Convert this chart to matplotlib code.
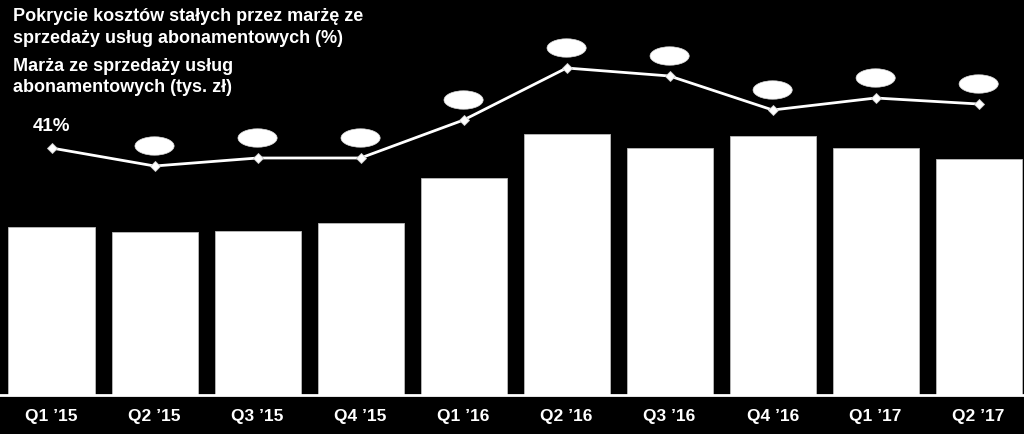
import matplotlib
matplotlib.use("Agg")
import matplotlib.pyplot as plt
from matplotlib.patches import Ellipse

categories = ["Q1 \u201915", "Q2 \u201915", "Q3 \u201915", "Q4 \u201915", "Q1 \u201916",
              "Q2 \u201916", "Q3 \u201916", "Q4 \u201916", "Q1 \u201917", "Q2 \u201917"]
# Marża ze sprzedaży usług abonamentowych (tys. zł) - estimated
margin = [6720, 6520, 6560, 6880, 8680, 10440, 9880, 10360, 9880, 9440]
# Pokrycie kosztów stałych (%) - estimated
coverage = [41, 36.5, 38.5, 38.5, 48, 61, 59, 50.5, 53.5, 52]

plt.rcParams['font.family'] = ['Liberation Sans', 'DejaVu Sans']

fig = plt.figure(figsize=(10.24, 4.34), dpi=100, facecolor='black')
ax = fig.add_axes([0, 39/434, 1, 395/434])
ax.set_facecolor('black')
x = list(range(len(categories)))
ax.bar(x, margin, width=0.835, color='white', edgecolor='#bbbbbb', linewidth=0.6, zorder=2)
ax.set_xlim(-0.5, 9.44)
ax.set_ylim(0, 15800)
ax.set_yticks([])
ax.set_xticks(x)
ax.set_xticklabels(categories, color='white', fontsize=12.5, fontweight='bold')
ax.tick_params(axis='x', length=0, pad=10)
for s in ['top', 'left', 'right']:
    ax.spines[s].set_visible(False)
ax.spines['bottom'].set_color('white')
ax.spines['bottom'].set_linewidth(2)

ax2 = ax.twinx()
ax2.set_ylim(-20.75, 78)
ax2.set_yticks([])
for s in ax2.spines.values():
    s.set_visible(False)
ax2.plot(x, coverage, color='white', linewidth=2, marker='D', markersize=5.5,
         markerfacecolor='white', markeredgecolor='#cccccc', markeredgewidth=0.6, zorder=3)

ax2.text(x[0], coverage[0] + 3.2, f"{coverage[0]:.0f}%", color='white', fontsize=13.5,
         fontweight='bold', ha='center', va='bottom')
for i in x[1:]:
    ax2.add_patch(Ellipse((i, coverage[i] + 5), 0.38, 4.6, facecolor='white',
                          edgecolor='#dddddd', linewidth=0.5, zorder=4))

fig.text(13/1024, 1 - 8/434, "Pokrycie kosztów stałych przez marżę ze\nsprzedaży usług abonamentowych (%)",
         color='white', fontsize=13, fontweight='bold', ha='left', va='top', linespacing=1.35)
fig.text(13/1024, 1 - 58/434, "Marża ze sprzedaży usług\nabonamentowych (tys. zł)",
         color='white', fontsize=13, fontweight='bold', ha='left', va='top', linespacing=1.3)

fig.savefig("out.png", dpi=100, facecolor='black')
